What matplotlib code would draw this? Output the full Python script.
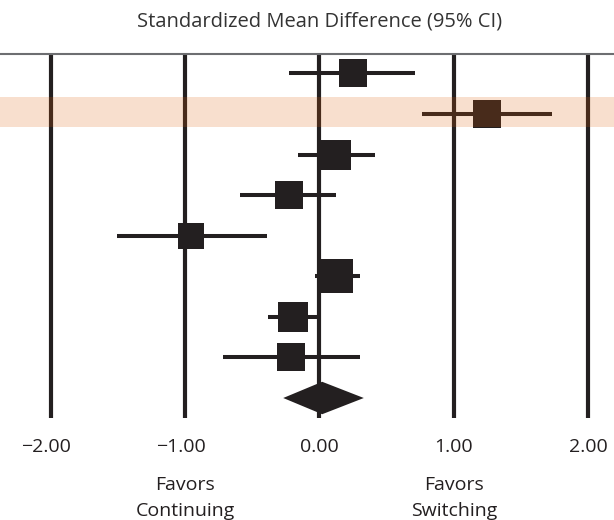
import matplotlib
matplotlib.use("Agg")
import matplotlib.pyplot as plt
import matplotlib.transforms as mtransforms

plt.rcParams['font.family'] = ['Open Sans', 'DejaVu Sans']

# study estimates (standardized mean difference, 95% CI) and weights (%)
smd = [0.25, 1.25, 0.12, -0.23, -0.96, 0.12, -0.20, -0.21]
ci_lo = [-0.23, 0.76, -0.16, -0.59, -1.51, -0.03, -0.38, -0.72]
ci_hi = [0.71, 1.73, 0.41, 0.12, -0.39, 0.30, -0.02, 0.30]
weights = [11.3, 11.3, 13.8, 12.1, 9.7, 16.6, 13.8, 11.3]
highlight = 1  # index of the highlighted study

# pooled estimate
pooled = 0.02
pooled_lo = -0.27
pooled_hi = 0.33

ticks = [-2, -1, 0, 1, 2]
tick_labels = ["\u22122.00", "\u22121.00", "0.00", "1.00", "2.00"]
title = "Standardized Mean Difference (95% CI)"
favors_left = ["Favors", "Continuing"]
favors_right = ["Favors", "Switching"]

dark = "#231f20"

fig = plt.figure(figsize=(6.14, 5.2), dpi=100)
ax = fig.add_axes([0, 0.1967, 1, 0.6989])

n = len(smd)
rows = list(range(1, n + 1))
pooled_row = n + 1

# vertical reference lines
for t in ticks:
    ax.axvline(t, color=dark, lw=3.0, zorder=1)

# confidence intervals and squares
for i in range(n):
    ax.plot([ci_lo[i], ci_hi[i]], [rows[i], rows[i]], color=dark, lw=2.9,
            solid_capstyle="butt", zorder=2)
    ax.scatter(smd[i], rows[i], s=36 * weights[i], marker="s", color=dark,
               linewidths=0, zorder=3)

# pooled diamond
h = 0.40
ax.fill([pooled_lo, pooled, pooled_hi, pooled],
        [pooled_row, pooled_row - h, pooled_row, pooled_row + h],
        color=dark, lw=0, zorder=3)

# highlight band (semi-transparent, drawn over the row)
ax.axhspan(rows[highlight] - 0.43, rows[highlight] + 0.33, color="#e0600a",
           alpha=0.2, lw=0, zorder=4)

ax.set_xlim(-2.379, 2.193)
ax.set_ylim(9.486, 0.527)
ax.set_xticks([])
ax.set_yticks([])
for side in ["left", "right", "bottom"]:
    ax.spines[side].set_visible(False)
ax.spines["top"].set_color("#6d6e71")
ax.spines["top"].set_linewidth(1.5)

trans = mtransforms.blended_transform_factory(ax.transData, fig.transFigure)

ax.text(0, 0.950, title, transform=trans, ha="center", va="baseline",
        fontsize=14.5, color="#333333")

for t, lab in zip(ticks, tick_labels):
    tr = trans
    if lab.startswith("\u2212"):
        tr = mtransforms.offset_copy(trans, fig=fig, x=-4.5, y=0, units="dots")
    ax.text(t, 0.1308, lab, transform=tr, ha="center", va="baseline",
            fontsize=14, color=dark)

for x, lines in [(-1, favors_left), (1, favors_right)]:
    ax.text(x, 0.0577, lines[0], transform=trans, ha="center", va="baseline",
            fontsize=14, color=dark)
    ax.text(x, 0.0077, lines[1], transform=trans, ha="center", va="baseline",
            fontsize=14, color=dark)

fig.savefig("out.png", dpi=100)
